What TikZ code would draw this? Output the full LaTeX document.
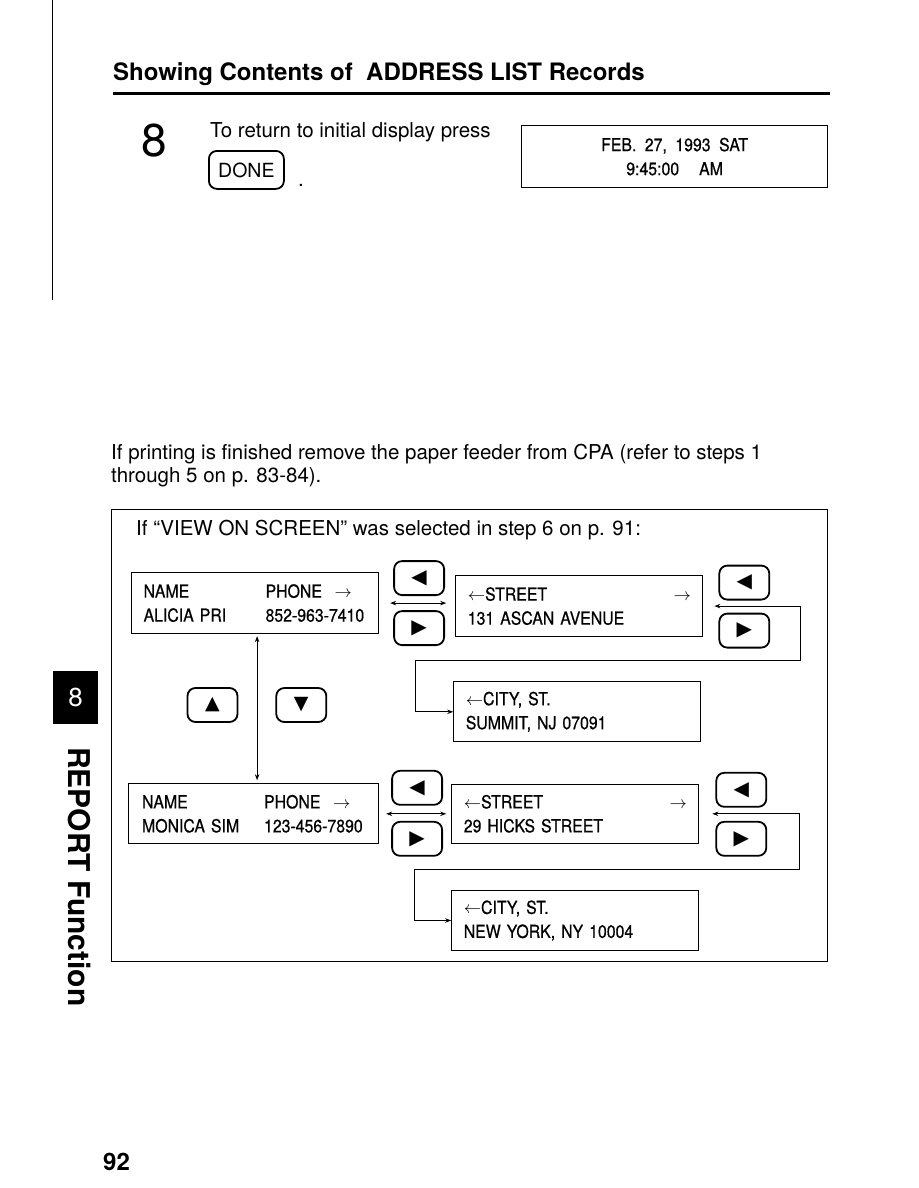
\documentclass[tikz,border=0pt]{standalone}
\usepackage{fontspec}
\setmainfont{TeX Gyre Heros}
\newfontfamily\lcdfont[FakeStretch=0.88, FakeBold=0.6]{TeX Gyre Heros}
\newfontfamily\symfont{DejaVu Sans}
\usetikzlibrary{arrows.meta, positioning}
\tikzset{
  bodytext/.style={font=\fontsize{20.5}{23}\selectfont, inner sep=0, anchor=base west},
  lcdbox/.style={draw, line width=1.2pt, inner sep=0, minimum width=247pt,
                 minimum height=61pt, text width=223pt, align=left,
                 font=\lcdfont\fontsize{18}{24}\selectfont},
  keybtn/.style={draw, line width=1.8pt, rounded corners=8pt, inner sep=0,
                 minimum width=50pt, minimum height=34pt,
                 font=\symfont\fontsize{20}{20}\selectfont},
  arr/.style={-{Stealth[length=6pt, width=4.5pt]}, line width=0.9pt},
  dblarr/.style={{Stealth[length=6pt, width=4.5pt]}-{Stealth[length=6pt, width=4.5pt]},
                 line width=0.9pt},
}

\begin{document}
\begin{tikzpicture}[x=1pt, y=-1pt]
  \useasboundingbox (0,0) rectangle (918,1188);

  %% Page head
  \draw[line width=0.8pt] (52,0) -- (52,300);
  \node[font=\bfseries\fontsize{24}{28}\selectfont, inner sep=0, anchor=base west]
    (title) at (113,81) {Showing Contents of\ \ ADDRESS LIST Records};
  \draw[line width=3pt] (113,94) -- (830,94);

  %% Step 8
  \node[font=\fontsize{46}{46}\selectfont, inner sep=0, anchor=base west] (num) at (141,157) {8};
  \node[bodytext] (instr) at (210,138) {To return to initial display press};
  \node[keybtn, font=\fontsize{19.5}{20}\selectfont, minimum width=75pt,
        minimum height=38pt, anchor=north west] (done) at (208,150) {DONE};
  \node[bodytext] (dot) at (298,186) {.};
  \node[lcdbox, minimum width=306pt, minimum height=62pt, text width=300pt,
        align=center, font=\lcdfont\fontsize{18}{24}\selectfont,
        anchor=north west] (clock) at (521,125)
    {FEB.\hspace{8.5pt}27,\hspace{8.5pt}1993\hspace{8.5pt}SAT\hspace*{16pt}\\
     9:45:00\hspace{20pt}AM\hspace*{16pt}};

  %% Note
  \node[bodytext] (para1) at (111,459)
    {If printing is finished remove the paper feeder from CPA (refer to steps 1};
  \node[bodytext] (para2) at (111,482) {through 5 on p. 83-84).};

  %% Frame
  \node[draw, line width=1pt, inner sep=0, minimum width=716pt, minimum height=452pt,
        anchor=north west] (frame) at (111,509) {};
  \node[bodytext] (cap) at (136,535)
    {If “VIEW ON SCREEN” was selected in step 6 on p. 91:};

  %% Row 1: first record
  \node[lcdbox, anchor=north west] (nm1) at (131,572)
    {\makebox[122pt][l]{NAME}\makebox[69pt][l]{PHONE}$\rightarrow$\\
     \makebox[122pt][l]{ALICIA PRI}852-963-7410};
  \node[keybtn, right=14pt of nm1.east, yshift=25pt]  (lt1) {◀};
  \node[keybtn, right=14pt of nm1.east, yshift=-25pt] (rt1) {▶};
  \node[lcdbox, right=76pt of nm1, yshift=-3pt] (st1)
    {$\leftarrow$STREET\hfill$\rightarrow$\\131 ASCAN AVENUE};
  \node[keybtn, right=15pt of st1.east, yshift=23.5pt]  (lt2) {◀};
  \node[keybtn, right=15pt of st1.east, yshift=-24.5pt] (rt2) {▶};
  \node[lcdbox, below=44pt of st1.south west, anchor=north west, xshift=-2pt,
        minimum height=60pt] (ct1)
    {$\leftarrow$CITY, ST.\\SUMMIT, NJ 07091};

  \draw[dblarr] ([xshift=11pt]nm1.east) -- ([xshift=-9pt]nm1.east -| st1.west);
  \draw[dblarr] ([xshift=11pt]st1.east) -- ++(86,0) -- ++(0,54) -- ++(-385,0) |- (ct1.west);

  %% Scroll keys
  \node[keybtn, font=\symfont\fontsize{19}{19}\selectfont] (up) at (212.5,705) {▲};
  \node[keybtn, font=\symfont\fontsize{19}{19}\selectfont, right=37pt of up] (dn) {▼};

  %% Row 2: second record
  \node[lcdbox, below=149pt of nm1.south west, anchor=north west, xshift=-3pt,
        minimum width=250pt, minimum height=60pt] (nm2)
    {\makebox[122pt][l]{NAME}\makebox[69pt][l]{PHONE}$\rightarrow$\\
     \makebox[122pt][l]{MONICA SIM}123-456-7890};
  \draw[dblarr] ([xshift=2pt, yshift=-2pt]nm1.south)
    -- ([xshift=2pt, yshift=3pt]nm1.south |- nm2.north);

  \node[keybtn, right=12pt of nm2.east, yshift=26pt]  (lt3) {◀};
  \node[keybtn, right=12pt of nm2.east, yshift=-25pt] (rt3) {▶};
  \node[lcdbox, right=72pt of nm2, minimum height=59pt] (st2)
    {$\leftarrow$STREET\hfill$\rightarrow$\\29 HICKS STREET};
  \node[keybtn, right=16pt of st2.east, yshift=24pt]  (lt4) {◀};
  \node[keybtn, right=16pt of st2.east, yshift=-25pt] (rt4) {▶};
  \node[lcdbox, below=46pt of st2.south west, anchor=north west,
        minimum height=60pt] (ct2)
    {$\leftarrow$CITY, ST.\\NEW YORK, NY 10004};

  \draw[dblarr] ([xshift=7pt]nm2.east) -- ([xshift=-5pt]nm2.east -| st2.west);
  \draw[dblarr] ([xshift=13pt]st2.east) -- ++(87,0) -- ++(0,56) -- ++(-385,0) |- (ct2.west);

  %% Chapter tab
  \node[fill=black, text=white, inner sep=0, minimum width=45pt, minimum height=53pt,
        anchor=north west, font=\fontsize{26}{26}\selectfont] (tab) at (53,671) {8};
  \node[rotate=-90, inner sep=0, anchor=base west,
        font=\bfseries\fontsize{30}{30}\selectfont] (side) at (68,747) {REPORT Function};

  %% Folio
  \node[font=\bfseries\fontsize{24}{24}\selectfont, inner sep=0, anchor=base west]
    (pg) at (103,1170) {92};
\end{tikzpicture}
\end{document}
